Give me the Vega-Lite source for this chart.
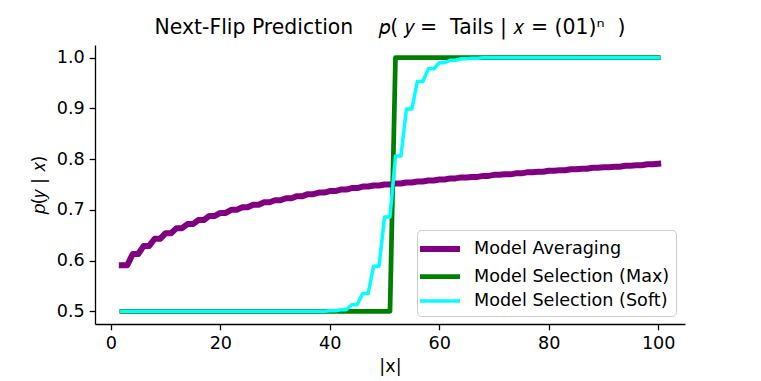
{
  "$schema": "https://vega.github.io/schema/vega-lite/v6.json",
  "autosize": {"type": "none"},
  "width": 590,
  "height": 279,
  "padding": {"left": 95, "top": 45, "right": 76, "bottom": 57},
  "background": "white",
  "title": {
    "text": "Next-Flip Prediction\u00a0\u00a0\u00a0\u00a0𝑝(\u00a0𝑦\u00a0=\u00a0\u00a0Tails | 𝑥 = (01)ⁿ\u00a0\u00a0)",
    "fontSize": 20.4,
    "fontWeight": "normal",
    "font": "DejaVu Sans",
    "color": "black",
    "anchor": "middle",
    "offset": 7
  },
  "data": {
    "values": [
      {"x": 2, "Model Averaging": 0.591, "Model Selection (Max)": 0.5, "Model Selection (Soft)": 0.5},
      {"x": 3, "Model Averaging": 0.591, "Model Selection (Max)": 0.5, "Model Selection (Soft)": 0.5},
      {"x": 4, "Model Averaging": 0.613, "Model Selection (Max)": 0.5, "Model Selection (Soft)": 0.5},
      {"x": 5, "Model Averaging": 0.613, "Model Selection (Max)": 0.5, "Model Selection (Soft)": 0.5},
      {"x": 6, "Model Averaging": 0.629, "Model Selection (Max)": 0.5, "Model Selection (Soft)": 0.5},
      {"x": 7, "Model Averaging": 0.629, "Model Selection (Max)": 0.5, "Model Selection (Soft)": 0.5},
      {"x": 8, "Model Averaging": 0.643, "Model Selection (Max)": 0.5, "Model Selection (Soft)": 0.5},
      {"x": 9, "Model Averaging": 0.643, "Model Selection (Max)": 0.5, "Model Selection (Soft)": 0.5},
      {"x": 10, "Model Averaging": 0.654, "Model Selection (Max)": 0.5, "Model Selection (Soft)": 0.5},
      {"x": 11, "Model Averaging": 0.654, "Model Selection (Max)": 0.5, "Model Selection (Soft)": 0.5},
      {"x": 12, "Model Averaging": 0.664, "Model Selection (Max)": 0.5, "Model Selection (Soft)": 0.5},
      {"x": 13, "Model Averaging": 0.664, "Model Selection (Max)": 0.5, "Model Selection (Soft)": 0.5},
      {"x": 14, "Model Averaging": 0.672, "Model Selection (Max)": 0.5, "Model Selection (Soft)": 0.5},
      {"x": 15, "Model Averaging": 0.672, "Model Selection (Max)": 0.5, "Model Selection (Soft)": 0.5},
      {"x": 16, "Model Averaging": 0.68, "Model Selection (Max)": 0.5, "Model Selection (Soft)": 0.5},
      {"x": 17, "Model Averaging": 0.68, "Model Selection (Max)": 0.5, "Model Selection (Soft)": 0.5},
      {"x": 18, "Model Averaging": 0.688, "Model Selection (Max)": 0.5, "Model Selection (Soft)": 0.5},
      {"x": 19, "Model Averaging": 0.688, "Model Selection (Max)": 0.5, "Model Selection (Soft)": 0.5},
      {"x": 20, "Model Averaging": 0.694, "Model Selection (Max)": 0.5, "Model Selection (Soft)": 0.5},
      {"x": 21, "Model Averaging": 0.694, "Model Selection (Max)": 0.5, "Model Selection (Soft)": 0.5},
      {"x": 22, "Model Averaging": 0.7, "Model Selection (Max)": 0.5, "Model Selection (Soft)": 0.5},
      {"x": 23, "Model Averaging": 0.7, "Model Selection (Max)": 0.5, "Model Selection (Soft)": 0.5},
      {"x": 24, "Model Averaging": 0.705, "Model Selection (Max)": 0.5, "Model Selection (Soft)": 0.5},
      {"x": 25, "Model Averaging": 0.705, "Model Selection (Max)": 0.5, "Model Selection (Soft)": 0.5},
      {"x": 26, "Model Averaging": 0.71, "Model Selection (Max)": 0.5, "Model Selection (Soft)": 0.5},
      {"x": 27, "Model Averaging": 0.71, "Model Selection (Max)": 0.5, "Model Selection (Soft)": 0.5},
      {"x": 28, "Model Averaging": 0.715, "Model Selection (Max)": 0.5, "Model Selection (Soft)": 0.5},
      {"x": 29, "Model Averaging": 0.715, "Model Selection (Max)": 0.5, "Model Selection (Soft)": 0.5},
      {"x": 30, "Model Averaging": 0.719, "Model Selection (Max)": 0.5, "Model Selection (Soft)": 0.5},
      {"x": 31, "Model Averaging": 0.719, "Model Selection (Max)": 0.5, "Model Selection (Soft)": 0.5},
      {"x": 32, "Model Averaging": 0.723, "Model Selection (Max)": 0.5, "Model Selection (Soft)": 0.5},
      {"x": 33, "Model Averaging": 0.723, "Model Selection (Max)": 0.5, "Model Selection (Soft)": 0.5},
      {"x": 34, "Model Averaging": 0.727, "Model Selection (Max)": 0.5, "Model Selection (Soft)": 0.5},
      {"x": 35, "Model Averaging": 0.727, "Model Selection (Max)": 0.5, "Model Selection (Soft)": 0.5},
      {"x": 36, "Model Averaging": 0.731, "Model Selection (Max)": 0.5, "Model Selection (Soft)": 0.5},
      {"x": 37, "Model Averaging": 0.731, "Model Selection (Max)": 0.5, "Model Selection (Soft)": 0.5},
      {"x": 38, "Model Averaging": 0.734, "Model Selection (Max)": 0.5, "Model Selection (Soft)": 0.5},
      {"x": 39, "Model Averaging": 0.734, "Model Selection (Max)": 0.5, "Model Selection (Soft)": 0.5},
      {"x": 40, "Model Averaging": 0.737, "Model Selection (Max)": 0.5, "Model Selection (Soft)": 0.501},
      {"x": 41, "Model Averaging": 0.737, "Model Selection (Max)": 0.5, "Model Selection (Soft)": 0.501},
      {"x": 42, "Model Averaging": 0.74, "Model Selection (Max)": 0.5, "Model Selection (Soft)": 0.503},
      {"x": 43, "Model Averaging": 0.74, "Model Selection (Max)": 0.5, "Model Selection (Soft)": 0.503},
      {"x": 44, "Model Averaging": 0.743, "Model Selection (Max)": 0.5, "Model Selection (Soft)": 0.513},
      {"x": 45, "Model Averaging": 0.743, "Model Selection (Max)": 0.5, "Model Selection (Soft)": 0.513},
      {"x": 46, "Model Averaging": 0.746, "Model Selection (Max)": 0.5, "Model Selection (Soft)": 0.535},
      {"x": 47, "Model Averaging": 0.746, "Model Selection (Max)": 0.5, "Model Selection (Soft)": 0.535},
      {"x": 48, "Model Averaging": 0.748, "Model Selection (Max)": 0.5, "Model Selection (Soft)": 0.589},
      {"x": 49, "Model Averaging": 0.748, "Model Selection (Max)": 0.5, "Model Selection (Soft)": 0.589},
      {"x": 50, "Model Averaging": 0.75, "Model Selection (Max)": 0.5, "Model Selection (Soft)": 0.686},
      {"x": 51, "Model Averaging": 0.75, "Model Selection (Max)": 0.5, "Model Selection (Soft)": 0.686},
      {"x": 52, "Model Averaging": 0.752, "Model Selection (Max)": 1.0, "Model Selection (Soft)": 0.806},
      {"x": 53, "Model Averaging": 0.752, "Model Selection (Max)": 1.0, "Model Selection (Soft)": 0.806},
      {"x": 54, "Model Averaging": 0.754, "Model Selection (Max)": 1.0, "Model Selection (Soft)": 0.899},
      {"x": 55, "Model Averaging": 0.754, "Model Selection (Max)": 1.0, "Model Selection (Soft)": 0.899},
      {"x": 56, "Model Averaging": 0.756, "Model Selection (Max)": 1.0, "Model Selection (Soft)": 0.953},
      {"x": 57, "Model Averaging": 0.756, "Model Selection (Max)": 1.0, "Model Selection (Soft)": 0.953},
      {"x": 58, "Model Averaging": 0.758, "Model Selection (Max)": 1.0, "Model Selection (Soft)": 0.978},
      {"x": 59, "Model Averaging": 0.758, "Model Selection (Max)": 1.0, "Model Selection (Soft)": 0.978},
      {"x": 60, "Model Averaging": 0.76, "Model Selection (Max)": 1.0, "Model Selection (Soft)": 0.99},
      {"x": 61, "Model Averaging": 0.76, "Model Selection (Max)": 1.0, "Model Selection (Soft)": 0.99},
      {"x": 62, "Model Averaging": 0.762, "Model Selection (Max)": 1.0, "Model Selection (Soft)": 0.995},
      {"x": 63, "Model Averaging": 0.762, "Model Selection (Max)": 1.0, "Model Selection (Soft)": 0.995},
      {"x": 64, "Model Averaging": 0.764, "Model Selection (Max)": 1.0, "Model Selection (Soft)": 0.998},
      {"x": 65, "Model Averaging": 0.764, "Model Selection (Max)": 1.0, "Model Selection (Soft)": 0.998},
      {"x": 66, "Model Averaging": 0.765, "Model Selection (Max)": 1.0, "Model Selection (Soft)": 0.999},
      {"x": 67, "Model Averaging": 0.765, "Model Selection (Max)": 1.0, "Model Selection (Soft)": 0.999},
      {"x": 68, "Model Averaging": 0.767, "Model Selection (Max)": 1.0, "Model Selection (Soft)": 1.0},
      {"x": 69, "Model Averaging": 0.767, "Model Selection (Max)": 1.0, "Model Selection (Soft)": 1.0},
      {"x": 70, "Model Averaging": 0.769, "Model Selection (Max)": 1.0, "Model Selection (Soft)": 1.0},
      {"x": 71, "Model Averaging": 0.769, "Model Selection (Max)": 1.0, "Model Selection (Soft)": 1.0},
      {"x": 72, "Model Averaging": 0.77, "Model Selection (Max)": 1.0, "Model Selection (Soft)": 1.0},
      {"x": 73, "Model Averaging": 0.77, "Model Selection (Max)": 1.0, "Model Selection (Soft)": 1.0},
      {"x": 74, "Model Averaging": 0.772, "Model Selection (Max)": 1.0, "Model Selection (Soft)": 1.0},
      {"x": 75, "Model Averaging": 0.772, "Model Selection (Max)": 1.0, "Model Selection (Soft)": 1.0},
      {"x": 76, "Model Averaging": 0.774, "Model Selection (Max)": 1.0, "Model Selection (Soft)": 1.0},
      {"x": 77, "Model Averaging": 0.774, "Model Selection (Max)": 1.0, "Model Selection (Soft)": 1.0},
      {"x": 78, "Model Averaging": 0.775, "Model Selection (Max)": 1.0, "Model Selection (Soft)": 1.0},
      {"x": 79, "Model Averaging": 0.775, "Model Selection (Max)": 1.0, "Model Selection (Soft)": 1.0},
      {"x": 80, "Model Averaging": 0.777, "Model Selection (Max)": 1.0, "Model Selection (Soft)": 1.0},
      {"x": 81, "Model Averaging": 0.777, "Model Selection (Max)": 1.0, "Model Selection (Soft)": 1.0},
      {"x": 82, "Model Averaging": 0.778, "Model Selection (Max)": 1.0, "Model Selection (Soft)": 1.0},
      {"x": 83, "Model Averaging": 0.778, "Model Selection (Max)": 1.0, "Model Selection (Soft)": 1.0},
      {"x": 84, "Model Averaging": 0.78, "Model Selection (Max)": 1.0, "Model Selection (Soft)": 1.0},
      {"x": 85, "Model Averaging": 0.78, "Model Selection (Max)": 1.0, "Model Selection (Soft)": 1.0},
      {"x": 86, "Model Averaging": 0.781, "Model Selection (Max)": 1.0, "Model Selection (Soft)": 1.0},
      {"x": 87, "Model Averaging": 0.781, "Model Selection (Max)": 1.0, "Model Selection (Soft)": 1.0},
      {"x": 88, "Model Averaging": 0.783, "Model Selection (Max)": 1.0, "Model Selection (Soft)": 1.0},
      {"x": 89, "Model Averaging": 0.783, "Model Selection (Max)": 1.0, "Model Selection (Soft)": 1.0},
      {"x": 90, "Model Averaging": 0.784, "Model Selection (Max)": 1.0, "Model Selection (Soft)": 1.0},
      {"x": 91, "Model Averaging": 0.784, "Model Selection (Max)": 1.0, "Model Selection (Soft)": 1.0},
      {"x": 92, "Model Averaging": 0.785, "Model Selection (Max)": 1.0, "Model Selection (Soft)": 1.0},
      {"x": 93, "Model Averaging": 0.785, "Model Selection (Max)": 1.0, "Model Selection (Soft)": 1.0},
      {"x": 94, "Model Averaging": 0.787, "Model Selection (Max)": 1.0, "Model Selection (Soft)": 1.0},
      {"x": 95, "Model Averaging": 0.787, "Model Selection (Max)": 1.0, "Model Selection (Soft)": 1.0},
      {"x": 96, "Model Averaging": 0.788, "Model Selection (Max)": 1.0, "Model Selection (Soft)": 1.0},
      {"x": 97, "Model Averaging": 0.788, "Model Selection (Max)": 1.0, "Model Selection (Soft)": 1.0},
      {"x": 98, "Model Averaging": 0.79, "Model Selection (Max)": 1.0, "Model Selection (Soft)": 1.0},
      {"x": 99, "Model Averaging": 0.79, "Model Selection (Max)": 1.0, "Model Selection (Soft)": 1.0},
      {"x": 100, "Model Averaging": 0.791, "Model Selection (Max)": 1.0, "Model Selection (Soft)": 1.0}
    ]
  },
  "transform": [
    {"fold": ["Model Averaging", "Model Selection (Max)", "Model Selection (Soft)"], "as": ["series", "p"]}
  ],
  "mark": {"type": "line", "strokeJoin": "round", "strokeCap": "square", "clip": false},
  "encoding": {
    "x": {
      "field": "x",
      "type": "quantitative",
      "scale": {"domain": [-2.9, 104.9], "nice": false, "zero": false},
      "axis": {"values": [0, 20, 40, 60, 80, 100], "title": "|x|", "grid": false}
    },
    "y": {
      "field": "p",
      "type": "quantitative",
      "scale": {"domain": [0.475, 1.025], "nice": false, "zero": false},
      "axis": {"values": [0.5, 0.6, 0.7, 0.8, 0.9, 1.0], "format": ".1f", "title": "𝑝(𝑦 | 𝑥)", "grid": false, "titlePadding": 8}
    },
    "color": {
      "field": "series",
      "type": "nominal",
      "scale": {"domain": ["Model Averaging", "Model Selection (Max)", "Model Selection (Soft)"], "range": ["#800080", "#008000", "#00ffff"]},
      "legend": {"title": null}
    },
    "strokeWidth": {
      "field": "series",
      "type": "nominal",
      "scale": {"domain": ["Model Averaging", "Model Selection (Max)", "Model Selection (Soft)"], "range": [6, 3.5, 2.2]},
      "legend": {"title": null}
    },
    "opacity": {
      "field": "series",
      "type": "nominal",
      "scale": {"domain": ["Model Averaging", "Model Selection (Max)", "Model Selection (Soft)"], "range": [1, 1, 0.8]},
      "legend": {"title": null}
    }
  },
  "config": {
    "font": "DejaVu Sans",
    "view": {"stroke": null},
    "axis": {
      "labelFont": "DejaVu Sans",
      "titleFont": "DejaVu Sans",
      "labelFontSize": 17.6,
      "titleFontSize": 17.6,
      "titleFontWeight": "normal",
      "labelColor": "black",
      "titleColor": "black",
      "domainColor": "black",
      "tickColor": "black",
      "domainWidth": 1.3,
      "tickWidth": 1.3,
      "tickSize": 5.8,
      "labelPadding": 5,
      "titlePadding": 5
    },
    "legend": {
      "orient": "none",
      "legendX": 322,
      "legendY": 185,
      "labelFont": "DejaVu Sans",
      "labelFontSize": 17.6,
      "labelColor": "black",
      "symbolType": "M-2,0H2",
      "symbolSize": 400,
      "symbolOffset": 4,
      "rowPadding": 3,
      "labelOffset": 21,
      "padding": 6,
      "fillColor": "white",
      "strokeColor": "#cccccc",
      "cornerRadius": 4,
      "labelLimit": 400
    }
  }
}
